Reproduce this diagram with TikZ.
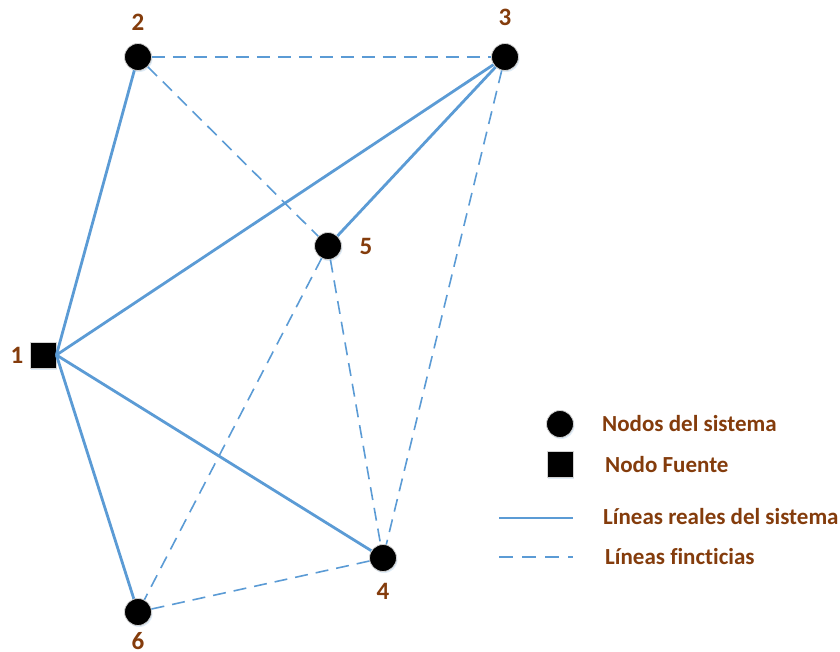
\documentclass[tikz,border=0pt]{standalone}
\usepackage{fontspec}
\setmainfont[Ligatures=NoCommon]{Carlito}
\usetikzlibrary{shadows}
\definecolor{lc}{HTML}{5B9BD5}
\definecolor{tc}{HTML}{843C0C}
\begin{document}
\begin{tikzpicture}[x=1pt,y=-1pt,
 sysnode/.style={circle,fill=black,draw=gray!35,line width=0.8pt,minimum size=27pt,inner sep=0pt,drop shadow={shadow xshift=1pt,shadow yshift=-1.5pt,fill=lc!40,opacity=0.5}},
 srcnode/.style={rectangle,fill=black,draw=gray!35,line width=0.8pt,minimum size=26pt,inner sep=0pt,drop shadow={shadow xshift=1pt,shadow yshift=-1.5pt,fill=lc!40,opacity=0.5}},
 lbl/.style={text=tc,font=\fontsize{23}{27}\selectfont\bfseries,inner sep=0pt},
 num/.style={text=tc,font=\fontsize{25}{29}\selectfont\bfseries,inner sep=0pt},
 real/.style={draw=lc,line width=2.8pt},
 fict/.style={draw=lc,line width=1.6pt,dash pattern=on 13pt off 8pt}]
\useasboundingbox (0,0) rectangle (840,652);
% nodes
\node[srcnode] (n1) at (43,355) {};
\node[sysnode] (n2) at (138,57) {};
\node[sysnode] (n3) at (505,57) {};
\node[sysnode] (n5) at (328,246) {};
\node[sysnode] (n4) at (383,558) {};
\node[sysnode] (n6) at (138,612) {};
% labels
\node[num] (l1) at (17,355) {1};
\node[num] (l2) at (138,22) {2};
\node[num] (l3) at (505,17) {3};
\node[num] (l5) at (366,246) {5};
\node[num] (l4) at (383,591) {4};
\node[num] (l6) at (138,641) {6};
% connectors
\draw[real] (n1.east) -- (n2);
\draw[real] (n1.east) -- (n3);
\draw[real] (n1.east) -- (n4);
\draw[real] (n1.east) -- (n6);
\draw[real] (n3) -- (n5);
\draw[fict] (n2) -- (n3);
\draw[fict] (n2) -- (n5);
\draw[fict] (n3) -- (n4);
\draw[fict] (n5) -- (n4);
\draw[fict] (n5) -- (n6);
\draw[fict] (n6) -- (n4);
% legend
\node[sysnode] (lg1) at (560,424) {};
\node[srcnode] (lg2) at (560,464) {};
\coordinate (ra) at (499,518);
\coordinate (rb) at (573,518);
\coordinate (fa) at (499,557);
\coordinate (fb) at (573,557);
\draw[real] (ra) -- (rb);
\draw[fict,dash pattern=on 14pt off 9pt] (fa) -- (fb);
\node[lbl,anchor=west] (t1) at (602,424) {Nodos del sistema};
\node[lbl,anchor=west] (t2) at (605,465) {Nodo Fuente};
\node[lbl,anchor=west] (t3) at (603,517) {Líneas reales del sistema};
\node[lbl,anchor=west] (t4) at (605,557) {Líneas fincticias};
\end{tikzpicture}
\end{document}
